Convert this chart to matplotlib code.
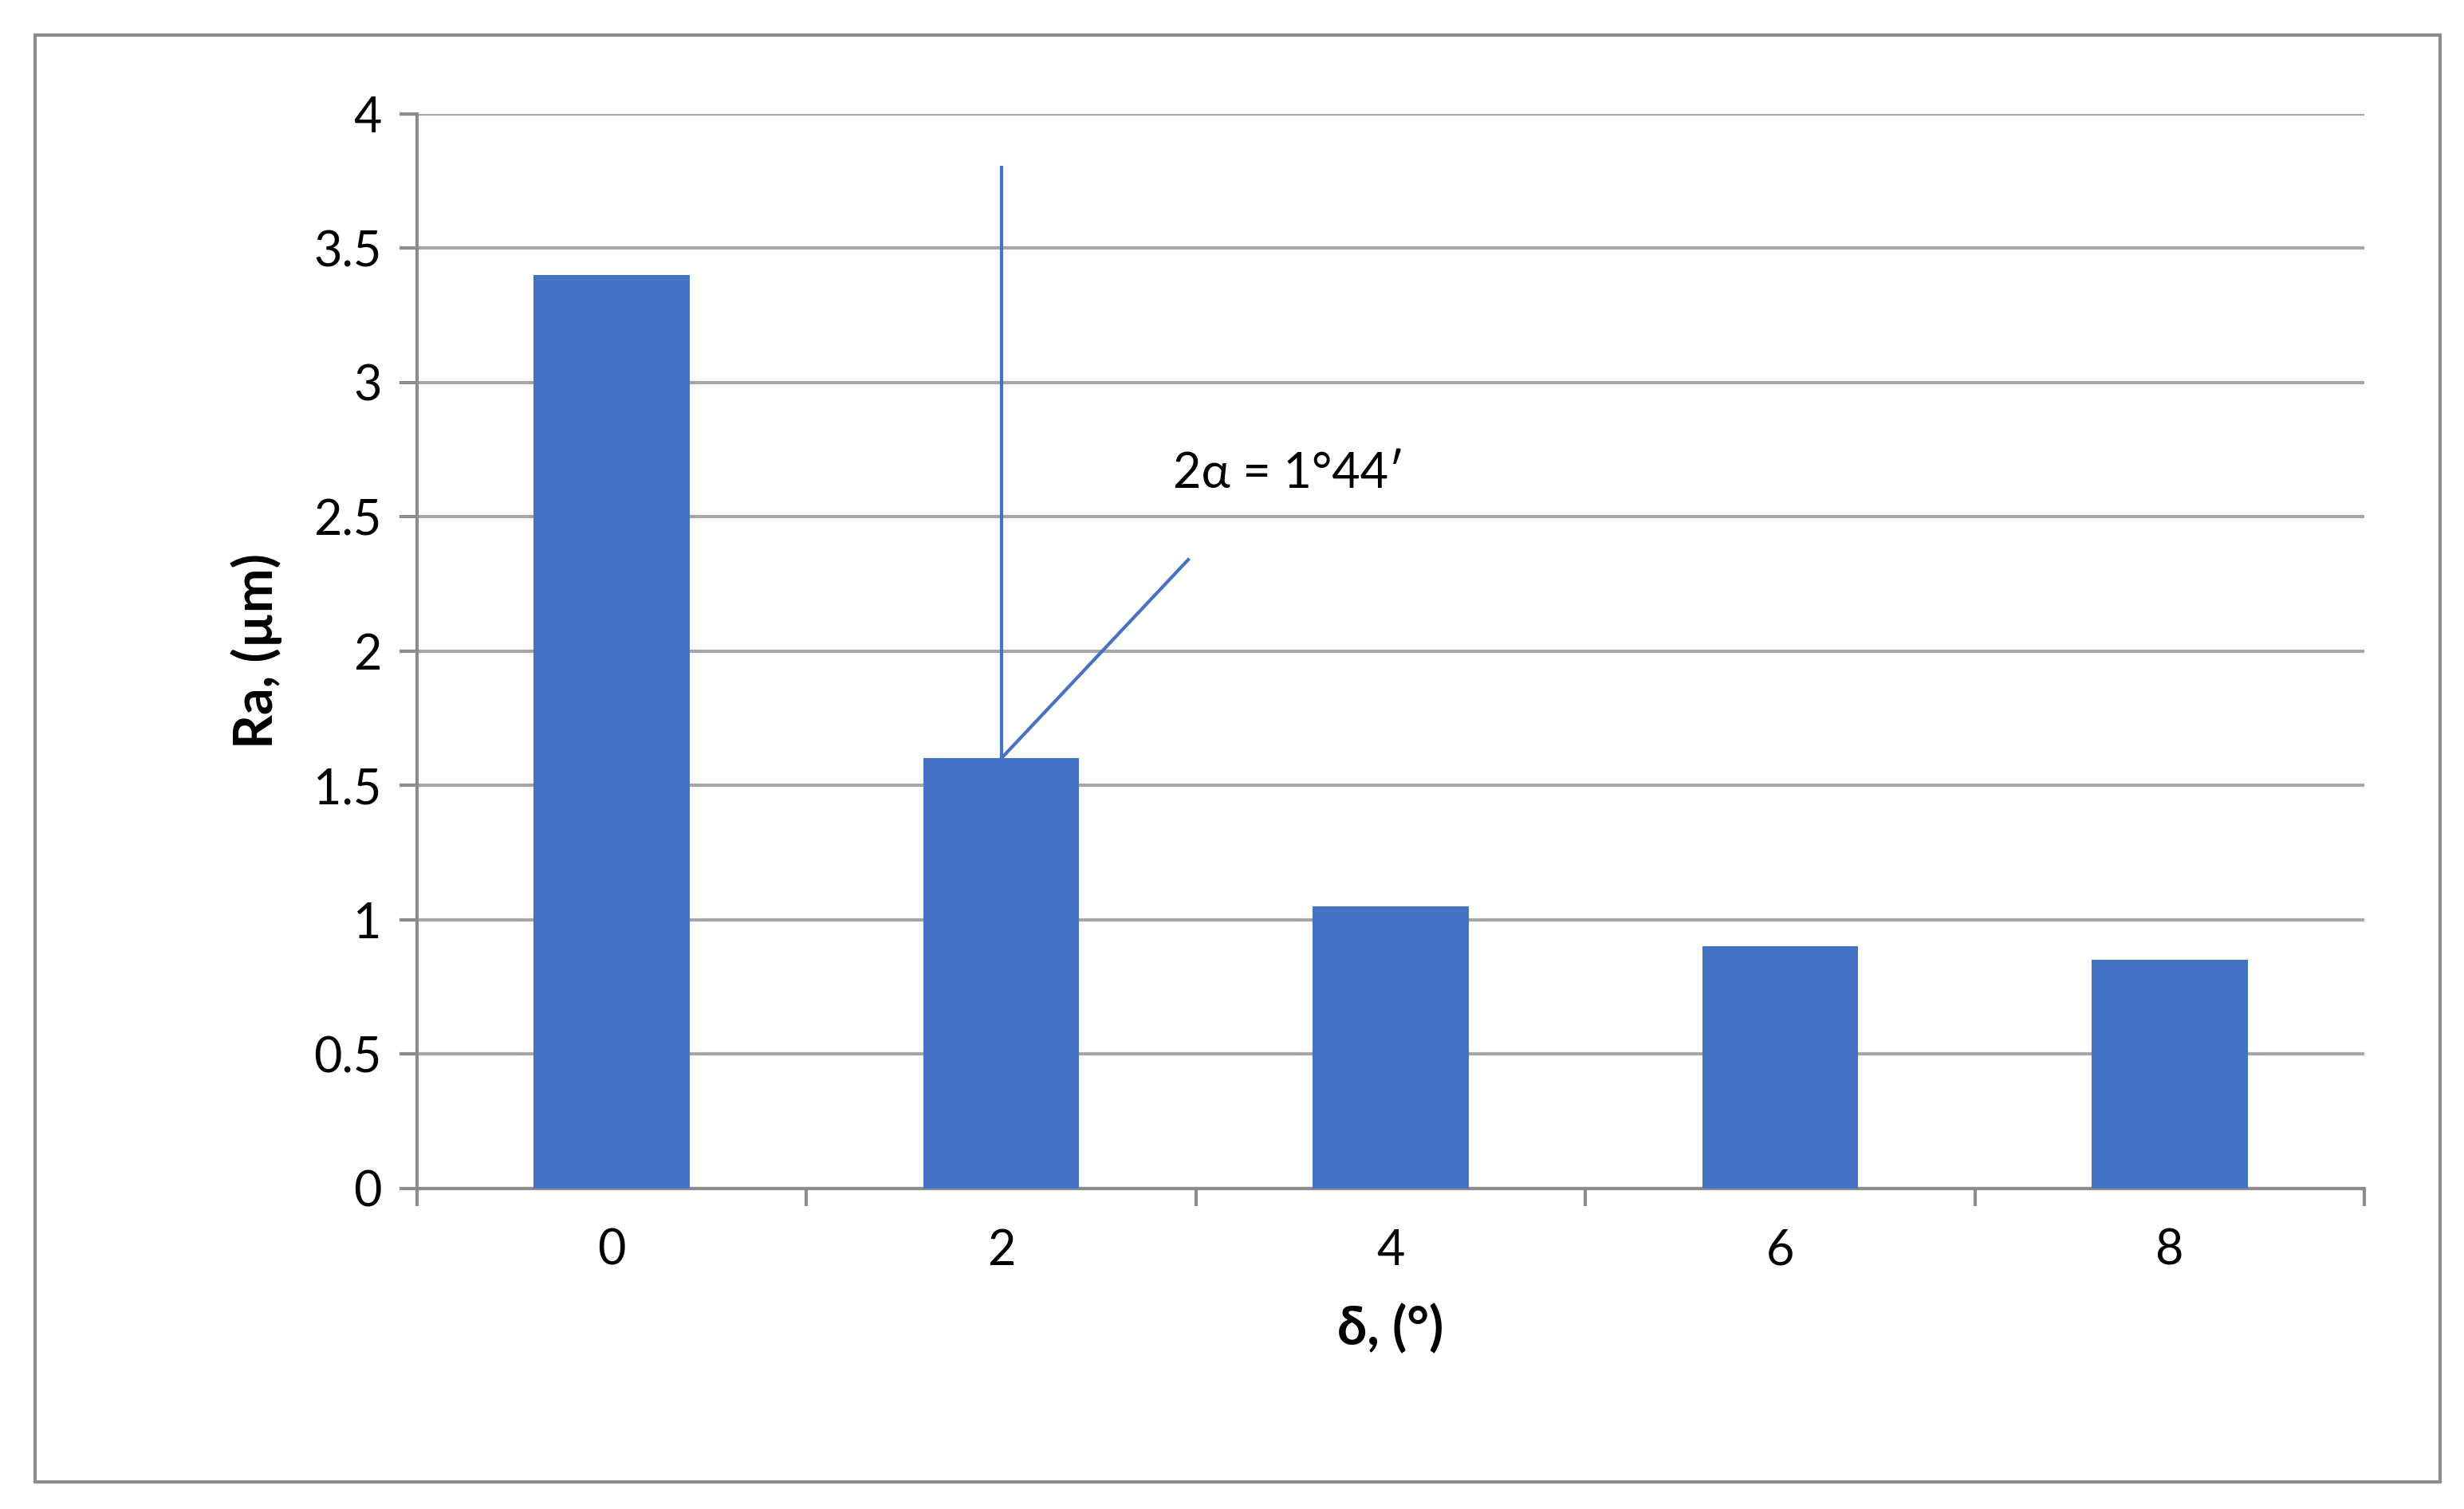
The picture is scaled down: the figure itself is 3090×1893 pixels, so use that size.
import matplotlib
matplotlib.use("Agg")
import matplotlib.pyplot as plt
from matplotlib.patches import Rectangle

categories = ["0", "2", "4", "6", "8"]
values = [3.4, 1.6, 1.05, 0.9, 0.85]
yticks = [0, 0.5, 1, 1.5, 2, 2.5, 3, 3.5, 4]
ytick_labels = ["0", "0.5", "1", "1.5", "2", "2.5", "3", "3.5", "4"]
annot_text = "2\u03b1 = 1°44′"

plt.rcParams['font.family'] = ['Lato', 'DejaVu Sans']
fig = plt.figure(figsize=(15.45, 9.465), dpi=200)
fig.patches.append(Rectangle((22/1560, 1-938/955), (1545-22)/1560, (938-22)/955,
                             transform=fig.transFigure, fill=False, edgecolor='#8c8c8c', lw=1.5))
ax = fig.add_axes([264/1560, 1-752/955, (1497-264)/1560, (752-72)/955])
x = list(range(len(categories)))
ax.bar(x, values, width=0.4, color='#4472C4', zorder=3)
ax.set_xlim(-0.5, 4.5)
ax.set_ylim(0, 4)
ax.set_yticks(yticks)
ax.set_yticklabels(ytick_labels, fontsize=22)
ax.set_xticks(x)
ax.set_xticklabels(categories, fontsize=22)
ax.tick_params(axis='x', length=0, pad=18)
ax.set_xticks([i - 0.5 for i in range(6)], minor=True)
ax.tick_params(axis='x', which='minor', length=8, color='#8c8c8c', width=1.5)
ax.tick_params(axis='y', length=8, color='#8c8c8c', width=1.5, pad=8)
ax.grid(axis='y', color='#a6a6a6', lw=1.5, zorder=0)
for s in ['top', 'right']:
    ax.spines[s].set_visible(False)
for s in ['left', 'bottom']:
    ax.spines[s].set_color('#8c8c8c')
    ax.spines[s].set_linewidth(1.5)
ax.set_ylabel("Ra, (µm)", fontsize=24, fontweight='bold', labelpad=14)
ax.set_xlabel("δ, (°)", fontsize=24, fontweight='bold', labelpad=14)
ax.plot([1, 1], [values[1], 3.8], color='#4472C4', lw=1.5, zorder=4)
ax.plot([1, 1.48], [values[1], 2.34], color='#4472C4', lw=1.5, zorder=4)
ax.text(1.44, 2.66, annot_text, fontsize=22, va='center', ha='left')
fig.savefig("out.png", dpi=200)
